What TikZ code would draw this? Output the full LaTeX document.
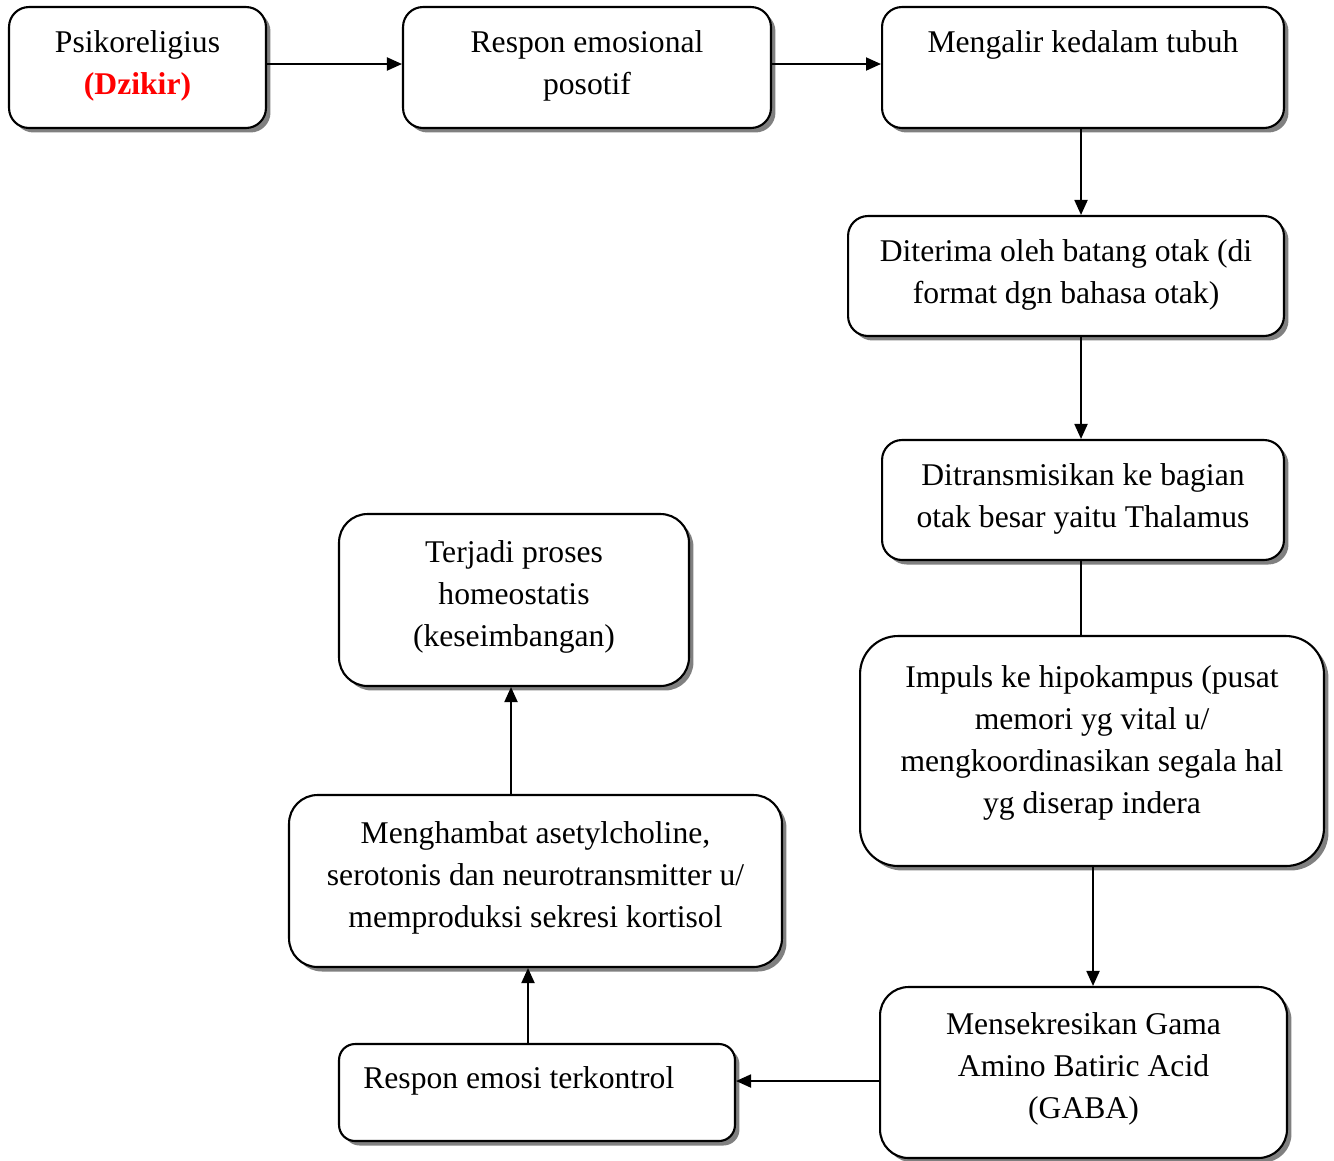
\documentclass[tikz,border=0pt]{standalone}
\usepackage{fontspec}
\setmainfont{Liberation Serif}
\usetikzlibrary{positioning,arrows.meta,shadows}

\tikzset{
  flowbox/.style={draw, line width=1.2pt, fill=white, rounded corners=#1, inner sep=0pt,
    drop shadow={shadow xshift=0.09cm, shadow yshift=-0.09cm, fill=black!50, opacity=1}},
  flowbox/.default=0.4cm,
  boxtext/.style={font=\fontsize{18pt}{24pt}\selectfont, align=center, inner sep=0pt, anchor=north},
  arr/.style={-{Triangle[length=0.3cm,width=0.26cm]}, line width=1.1pt},
}

\begin{document}
\begin{tikzpicture}[x=0.02cm,y=-0.02cm]
\useasboundingbox (0,0) rectangle (1334,1160);

% top row
\node[flowbox, minimum width=5.14cm, minimum height=2.42cm] (b1) at (137.5,67.5) {};
\node[boxtext, below=0.48cm of b1.north] (t1) {Psikoreligius\\\textcolor{red}{\textbf{(Dzikir)}}};
\node[flowbox, minimum width=7.36cm, minimum height=2.42cm] (b2) at (587,67.5) {};
\node[boxtext, below=0.48cm of b2.north] (t2) {Respon emosional\\posotif};
\node[flowbox, minimum width=8.04cm, minimum height=2.42cm] (b3) at (1083,67.5) {};
\node[boxtext, below=0.48cm of b3.north] (t3) {Mengalir kedalam tubuh};

% right column
\node[flowbox, minimum width=8.72cm, minimum height=2.4cm] (b4) at (1066,276) {};
\node[boxtext, below=0.48cm of b4.north] (t4) {Diterima oleh batang otak (di\\format dgn bahasa otak)};
\node[flowbox, minimum width=8.04cm, minimum height=2.4cm] (b5) at (1083,500) {};
\node[boxtext, below=0.48cm of b5.north] (t5) {Ditransmisikan ke bagian\\otak besar yaitu Thalamus};
\node[flowbox=0.76cm, minimum width=9.28cm, minimum height=4.6cm] (b6) at (1092,751) {};
\node[boxtext, below=0.6cm of b6.north] (t6) {Impuls ke hipokampus (pusat\\memori yg vital u/\\mengkoordinasikan segala hal\\yg diserap indera};
\node[flowbox=0.57cm, minimum width=8.14cm, minimum height=3.42cm] (b7) at (1083.5,1072.5) {};
\node[boxtext, below=0.52cm of b7.north] (t7) {Mensekresikan Gama\\Amino Batiric Acid\\(GABA)};

% left column
\node[flowbox=0.32cm, minimum width=7.92cm, minimum height=1.94cm] (b8) at (537,1092.5) {};
\node[boxtext, anchor=north west] (t8) at ([xshift=0.5cm,yshift=-0.46cm]b8.north west) {Respon emosi terkontrol};
\node[flowbox=0.57cm, minimum width=9.86cm, minimum height=3.44cm] (b9) at (535.5,881) {};
\node[boxtext, below=0.54cm of b9.north] (t9) {Menghambat asetylcholine,\\serotonis dan neurotransmitter u/\\memproduksi sekresi kortisol};
\node[flowbox=0.57cm, minimum width=7cm, minimum height=3.44cm] (b10) at (514,600) {};
\node[boxtext, below=0.54cm of b10.north] (t10) {Terjadi proses\\homeostatis\\(keseimbangan)};

% connectors
\draw[arr] ([yshift=0.07cm]b1.east) -- ([yshift=0.07cm]b1.east -| b2.west);
\draw[arr] ([yshift=0.07cm]b2.east) -- ([yshift=0.07cm]b2.east -| b3.west);
\draw[arr] ([xshift=-0.04cm]b3.south) -- ([xshift=-0.04cm]b3.south |- b4.north);
\draw[arr] ([xshift=-0.04cm]b5.north |- b4.south) -- ([xshift=-0.04cm]b5.north);
\draw[line width=1.1pt] ([xshift=-0.04cm]b5.south) -- ([xshift=-0.04cm]b5.south |- b6.north);
\draw[arr] ([xshift=0.02cm]b6.south) -- ([xshift=0.02cm]b6.south |- b7.north);
\draw[arr] ([yshift=-0.17cm]b7.west) -- ([yshift=-0.17cm]b7.west -| b8.east);
\draw[arr] ([xshift=-0.18cm]b8.north) -- ([xshift=-0.18cm]b8.north |- b9.south);
\draw[arr] ([xshift=-0.06cm]b10.south |- b9.north) -- ([xshift=-0.06cm]b10.south);
\end{tikzpicture}
\end{document}
